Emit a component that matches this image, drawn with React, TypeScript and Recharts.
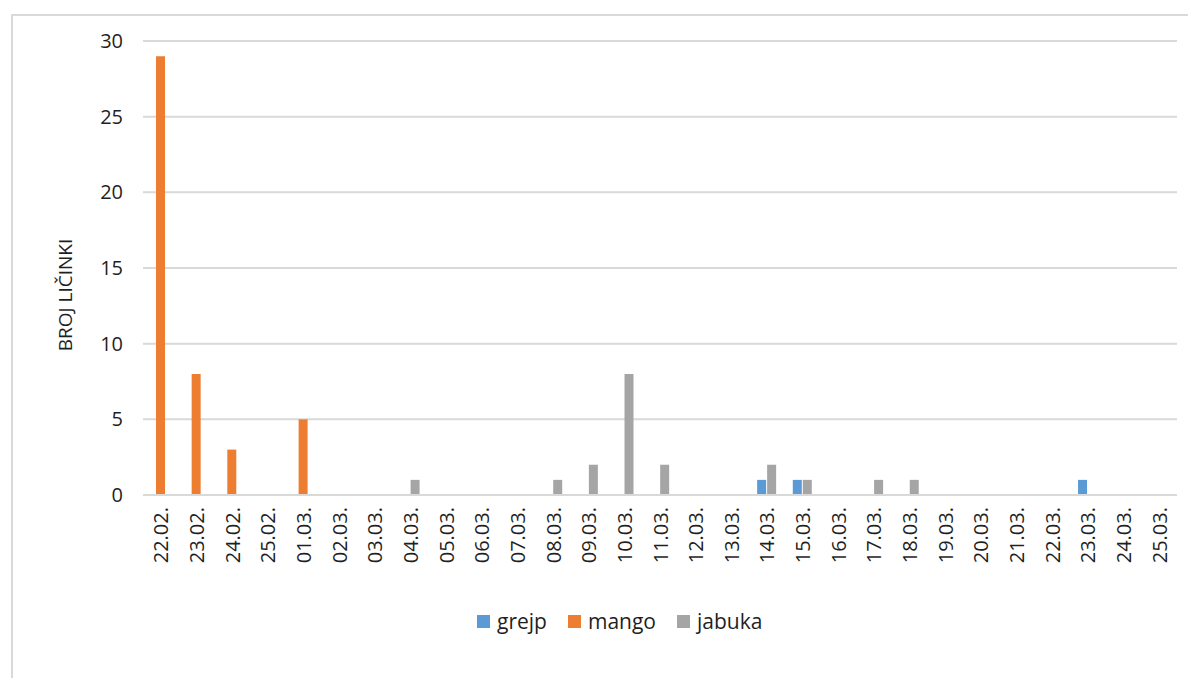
import React from "react";
import {
  BarChart,
  Bar,
  XAxis,
  YAxis,
  CartesianGrid,
  Legend,
} from "recharts";

// --- Data ---

const DAYS = [
  "22.02.", "23.02.", "24.02.", "25.02.", "01.03.", "02.03.", "03.03.",
  "04.03.", "05.03.", "06.03.", "07.03.", "08.03.", "09.03.", "10.03.",
  "11.03.", "12.03.", "13.03.", "14.03.", "15.03.", "16.03.", "17.03.",
  "18.03.", "19.03.", "20.03.", "21.03.", "22.03.", "23.03.", "24.03.",
  "25.03.",
];

const GREJP = [
  0, 0, 0, 0, 0, 0, 0, 0, 0, 0, 0, 0, 0, 0, 0, 0, 0, 1, 1, 0, 0, 0, 0, 0, 0, 0, 1, 0, 0,
];

const MANGO = [
  29, 8, 3, 0, 5, 0, 0, 0, 0, 0, 0, 0, 0, 0, 0, 0, 0, 0, 0, 0, 0, 0, 0, 0, 0, 0, 0, 0, 0,
];

const JABUKA = [
  0, 0, 0, 0, 0, 0, 0, 1, 0, 0, 0, 1, 2, 8, 2, 0, 0, 2, 1, 0, 1, 1, 0, 0, 0, 0, 0, 0, 0,
];

const Y_TICKS = [0, 5, 10, 15, 20, 25, 30];

const SERIES = [
  { key: "grejp", name: "grejp", color: "#5B9BD5" },
  { key: "mango", name: "mango", color: "#ED7D31" },
  { key: "jabuka", name: "jabuka", color: "#A5A5A5" },
];

const chartData = DAYS.map((day, i) => ({
  day,
  grejp: GREJP[i],
  mango: MANGO[i],
  jabuka: JABUKA[i],
}));

const FONT = "'Open Sans', 'Noto Sans', sans-serif";
const TEXT = "#1f1f1f";
const GRID = "#D9D9D9";

// --- Custom ticks / labels ---

function DayTick(props: { x?: number; y?: number; payload?: { value: string } }) {
  const { x = 0, y = 0, payload } = props;
  return (
    <text
      x={x}
      y={y}
      transform={`rotate(-90, ${x}, ${y})`}
      textAnchor="end"
      dominantBaseline="central"
      fill={TEXT}
      fontSize={20}
      fontFamily={FONT}
    >
      {payload?.value}
    </text>
  );
}

function AxisTitle() {
  const x = 65;
  const y = 295;
  return (
    <text
      x={x}
      y={y}
      transform={`rotate(-90, ${x}, ${y})`}
      textAnchor="middle"
      dominantBaseline="central"
      fill={TEXT}
      fontSize={19}
      fontFamily={FONT}
    >
      BROJ LIČINKI
    </text>
  );
}

function SquareLegend() {
  return (
    <div style={{ display: "flex", alignItems: "center", fontFamily: FONT, fontSize: 21, color: TEXT }}>
      {SERIES.map((s) => (
        <div key={s.key} style={{ display: "flex", alignItems: "center", marginRight: 21 }}>
          <span style={{ width: 13, height: 13, background: s.color, display: "inline-block", marginRight: 7 }} />
          <span>{s.name}</span>
        </div>
      ))}
    </div>
  );
}

// --- Main ---

export default function App() {
  return (
    <div style={{ position: "absolute", left: 0, top: 0, width: 1188, height: 678, background: "#fff", overflow: "hidden" }}>
      <div
        style={{
          position: "absolute",
          left: 11,
          top: 14,
          width: 1200,
          height: 700,
          borderLeft: "2px solid #D9D9D9",
          borderTop: "2px solid #D9D9D9",
        }}
      />
      <div style={{ position: "absolute", left: 0, top: 0 }}>
        <BarChart
          width={1188}
          height={678}
          data={chartData}
          margin={{ top: 41, right: 11, left: 0, bottom: 103 }}
          barGap={1}
        >
          <CartesianGrid vertical={false} stroke={GRID} strokeWidth={2} />
          <XAxis
            dataKey="day"
            interval={0}
            height={80}
            tickSize={0}
            tickMargin={12}
            tick={<DayTick />}
            axisLine={{ stroke: GRID, strokeWidth: 2 }}
            tickLine={false}
          />
          <XAxis xAxisId="m" dataKey="day" hide />
          <YAxis
            width={143}
            domain={[0, 30]}
            ticks={Y_TICKS}
            tickSize={0}
            tickMargin={20}
            axisLine={false}
            tickLine={false}
            tick={{ fill: TEXT, fontSize: 20, fontFamily: FONT }}
            label={<AxisTitle />}
          />
          <Legend
            layout="horizontal"
            verticalAlign="middle"
            align="center"
            wrapperStyle={{ position: "absolute", left: 477, top: 607, width: "auto" }}
            content={<SquareLegend />}
          />
          <Bar dataKey="grejp" name="grejp" fill={SERIES[0].color} barSize={9} isAnimationActive={false} />
          <Bar dataKey="mango" name="mango" xAxisId="m" fill={SERIES[1].color} barSize={9} isAnimationActive={false} />
          <Bar dataKey="jabuka" name="jabuka" fill={SERIES[2].color} barSize={9} isAnimationActive={false} />
        </BarChart>
      </div>
    </div>
  );
}
